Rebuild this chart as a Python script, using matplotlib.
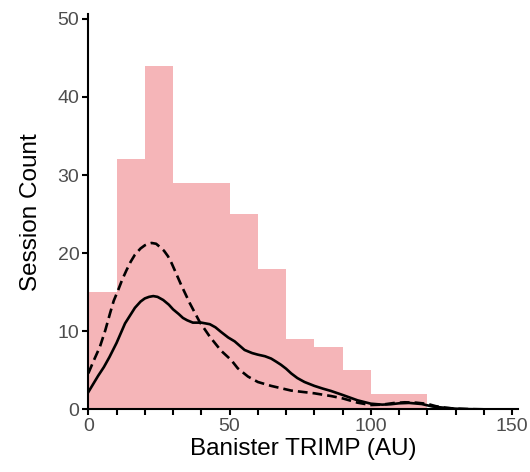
import matplotlib
matplotlib.use("Agg")
import matplotlib.pyplot as plt
import numpy as np

plt.rcParams['font.family'] = ['Liberation Sans', 'DejaVu Sans']

# Histogram (bin edges and counts)
bin_edges = [0, 10, 20, 30, 40, 50, 60, 70, 80, 90, 100, 110, 120]
counts = [15, 32, 44, 29, 29, 25, 18, 9, 8, 5, 2, 2]

# Density curve 1 (solid), scaled to counts
solid_x = [0, 1.5, 3.5, 5.5, 7.5, 10, 13, 16.5, 18.5, 20, 21.5, 23, 24.5, 26.5,
           28.5, 30, 32, 33.5, 35, 37, 40, 43, 45, 47, 49.5, 51.8, 55.3, 58,
           60, 62.5, 64.7, 66.5, 68.2, 70, 71.8, 74, 76.5, 80, 83, 85.9, 90,
           95.3, 100, 104, 107, 110, 113.5, 118, 121.8, 126.5, 130, 135, 140, 150]
solid_y = [2.2, 3.1, 4.3, 5.4, 6.7, 8.5, 11.0, 13.0, 13.8, 14.2, 14.4, 14.5, 14.4,
           14.0, 13.4, 12.8, 12.2, 11.7, 11.4, 11.1, 11.1, 10.9, 10.5, 9.9, 9.2,
           8.7, 7.6, 7.2, 7.0, 6.8, 6.5, 6.1, 5.7, 5.2, 4.6, 4.0, 3.5, 3.0, 2.65,
           2.35, 1.84, 1.15, 0.72, 0.6, 0.65, 0.77, 0.82, 0.68, 0.36, 0.18, 0.08,
           0.02, 0.0, 0.0]

# Density curve 2 (dashed), scaled to counts
dash_x = [0, 2, 4.1, 6, 7.7, 9, 10.6, 12, 13.5, 15, 16.5, 18.5, 20, 21.2, 22.4,
          24, 25.3, 26.8, 28.2, 29.5, 30.6, 32.9, 35.9, 39.4, 43, 47, 50.6,
          52.9, 56.5, 60, 64.7, 71.8, 80, 85.9, 90, 95.3, 100, 104, 108, 112,
          116, 120, 123, 126.5, 130, 135, 140, 150]
dash_y = [4.6, 6.3, 8.0, 10.1, 12.3, 13.9, 15.3, 16.6, 17.8, 18.9, 19.8, 20.6,
          21.0, 21.2, 21.3, 21.2, 20.8, 20.3, 19.6, 18.7, 17.8, 15.9, 13.6, 11.2,
          9.3, 7.5, 6.3, 5.25, 4.2, 3.5, 3.0, 2.4, 2.05, 1.7, 1.4, 0.85, 0.55,
          0.6, 0.8, 0.9, 0.85, 0.7, 0.4, 0.2, 0.08, 0.02, 0.0, 0.0]

x_major = [0, 50, 100, 150]
x_minor = list(range(0, 151, 10))
y_major = [0, 10, 20, 30, 40, 50]

fig = plt.figure(figsize=(5.3, 4.72), dpi=100)
ax = fig.add_axes([0.1666, 0.1328, 0.977 - 0.1666, 0.970 - 0.1328])

widths = np.diff(bin_edges)
ax.bar(bin_edges[:-1], counts, width=widths, align='edge', color='#F5B5B8',
       edgecolor='none', linewidth=0, zorder=1)

ax.plot(solid_x, solid_y, color='black', lw=1.9, zorder=3,
        solid_joinstyle='round')
ln, = ax.plot(dash_x, dash_y, color='black', lw=1.9, zorder=3,
              dash_joinstyle='round')
ln.set_dashes([3.7, 1.9])

ax.set_xlim(0, 152)
ax.set_ylim(0, 50.6)

for s in ['top', 'right']:
    ax.spines[s].set_visible(False)
for s in ['left', 'bottom']:
    ax.spines[s].set_linewidth(1.5)
    ax.spines[s].set_zorder(4)

ax.set_xticks(x_major)
ax.set_xticks(x_minor, minor=True)
ax.set_yticks(y_major)
ax.tick_params(axis='both', which='both', direction='out', width=1.5,
               colors='black', labelcolor='#4D4D4D', labelsize=14)
ax.tick_params(axis='both', which='major', length=4.5, pad=2)
ax.tick_params(axis='x', which='minor', length=4.5)

ax.set_xlabel('Banister TRIMP (AU)', fontsize=17.5, color='black', labelpad=2)
ax.set_ylabel('Session Count', fontsize=17.5, color='black', labelpad=11)

fig.savefig('out.png', dpi=100)
